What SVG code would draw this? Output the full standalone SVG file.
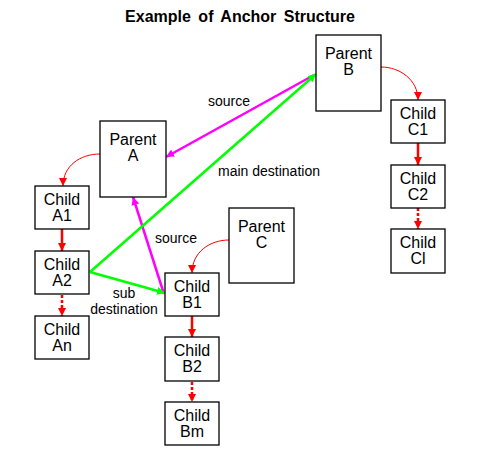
<svg xmlns="http://www.w3.org/2000/svg" width="483" height="462" viewBox="0 0 483 462">
<style>
.box{fill:#fff;stroke:#000;stroke-width:1.3}
.t{font-family:"Liberation Sans",Arial,sans-serif;font-size:16px;text-anchor:middle;fill:#000}
.l{font-family:"Liberation Sans",Arial,sans-serif;font-size:14px;fill:#000}
.title{font-family:"Liberation Sans",Arial,sans-serif;font-size:16px;font-weight:bold;text-anchor:middle;word-spacing:3px}
.rc{fill:none;stroke:#f00;stroke-width:1}
.rs{fill:none;stroke:#f00;stroke-width:2.5}
.rd{fill:none;stroke:#f00;stroke-width:2.5;stroke-dasharray:3,2}
.mg{fill:none;stroke:#f0f;stroke-width:2.5}
.gr{fill:none;stroke:#0f0;stroke-width:2.5}
</style>
<defs>
<marker id="ar" markerUnits="userSpaceOnUse" markerWidth="9" markerHeight="9" refX="8" refY="4.5" orient="auto"><path d="M0,0.5 L8,4.5 L0,8.5 z" fill="#f00"/></marker>
<marker id="am" markerUnits="userSpaceOnUse" markerWidth="9" markerHeight="9" refX="8" refY="4.5" orient="auto"><path d="M0,0.5 L8,4.5 L0,8.5 z" fill="#f0f"/></marker>
<marker id="ag" markerUnits="userSpaceOnUse" markerWidth="9" markerHeight="9" refX="8" refY="4.5" orient="auto"><path d="M0,0.5 L8,4.5 L0,8.5 z" fill="#0f0"/></marker>
</defs>
<rect width="483" height="462" fill="#fff"/>
<text class="title" x="240" y="22">Example of Anchor Structure</text>
<g id="connectors">
<path class="rc" d="M100,154 C80,154 63,166 63,186" marker-end="url(#ar)"/>
<path class="rc" d="M381,67 C400,67 418,80 418,100" marker-end="url(#ar)"/>
<path class="rc" d="M229,240 C210,240 192,252 192,273" marker-end="url(#ar)"/>
<path class="rs" d="M62,229 L62,251" marker-end="url(#ar)"/>
<path class="rd" d="M62,295 L62,316" marker-end="url(#ar)"/>
<path class="rs" d="M192,316 L192,337" marker-end="url(#ar)"/>
<path class="rd" d="M192,382 L192,402" marker-end="url(#ar)"/>
<path class="rs" d="M418,143 L418,165" marker-end="url(#ar)"/>
<path class="rd" d="M418,208 L418,229" marker-end="url(#ar)"/>
<path class="mg" d="M314,75 L166,157" marker-end="url(#am)"/>
<path class="mg" d="M164,294 L133,197" marker-end="url(#am)"/>
<path class="gr" d="M90,272 L316,74" marker-end="url(#ag)"/>
<path class="gr" d="M90,272 L165,293" marker-end="url(#ag)"/>
<text class="l" x="208" y="106">source</text>
<text class="l" x="218" y="176">main destination</text>
<text class="l" x="155" y="243">source</text>
<text class="l" x="124" y="298" text-anchor="middle">sub</text>
<text class="l" x="124" y="314" text-anchor="middle">destination</text>
</g>
<g id="parentA"><rect class="box" x="100" y="121" width="66" height="76"/><text class="t" x="133" y="145">Parent</text><text class="t" x="133" y="161">A</text></g>
<g id="parentB"><rect class="box" x="316" y="35" width="65" height="76"/><text class="t" x="348.5" y="59">Parent</text><text class="t" x="348.5" y="75">B</text></g>
<g id="parentC"><rect class="box" x="229" y="208" width="65" height="75"/><text class="t" x="261.5" y="232">Parent</text><text class="t" x="261.5" y="248">C</text></g>
<g id="childA1"><rect class="box" x="35" y="186" width="54" height="43"/><text class="t" x="62" y="205">Child</text><text class="t" x="62" y="221">A1</text></g>
<g id="childA2"><rect class="box" x="35" y="251" width="54" height="43"/><text class="t" x="62" y="270">Child</text><text class="t" x="62" y="286">A2</text></g>
<g id="childAn"><rect class="box" x="35" y="316" width="54" height="43"/><text class="t" x="62" y="335">Child</text><text class="t" x="62" y="351">An</text></g>
<g id="childB1"><rect class="box" x="165" y="273" width="54" height="43"/><text class="t" x="192" y="292">Child</text><text class="t" x="192" y="308">B1</text></g>
<g id="childB2"><rect class="box" x="165" y="337" width="54" height="44"/><text class="t" x="192" y="356">Child</text><text class="t" x="192" y="372">B2</text></g>
<g id="childBm"><rect class="box" x="165" y="402" width="54" height="43"/><text class="t" x="192" y="421">Child</text><text class="t" x="192" y="437">Bm</text></g>
<g id="childC1"><rect class="box" x="391" y="100" width="54" height="43"/><text class="t" x="418" y="119">Child</text><text class="t" x="418" y="135">C1</text></g>
<g id="childC2"><rect class="box" x="391" y="165" width="54" height="43"/><text class="t" x="418" y="184">Child</text><text class="t" x="418" y="200">C2</text></g>
<g id="childCl"><rect class="box" x="391" y="229" width="54" height="44"/><text class="t" x="418" y="248">Child</text><text class="t" x="418" y="264">Cl</text></g>
</svg>
